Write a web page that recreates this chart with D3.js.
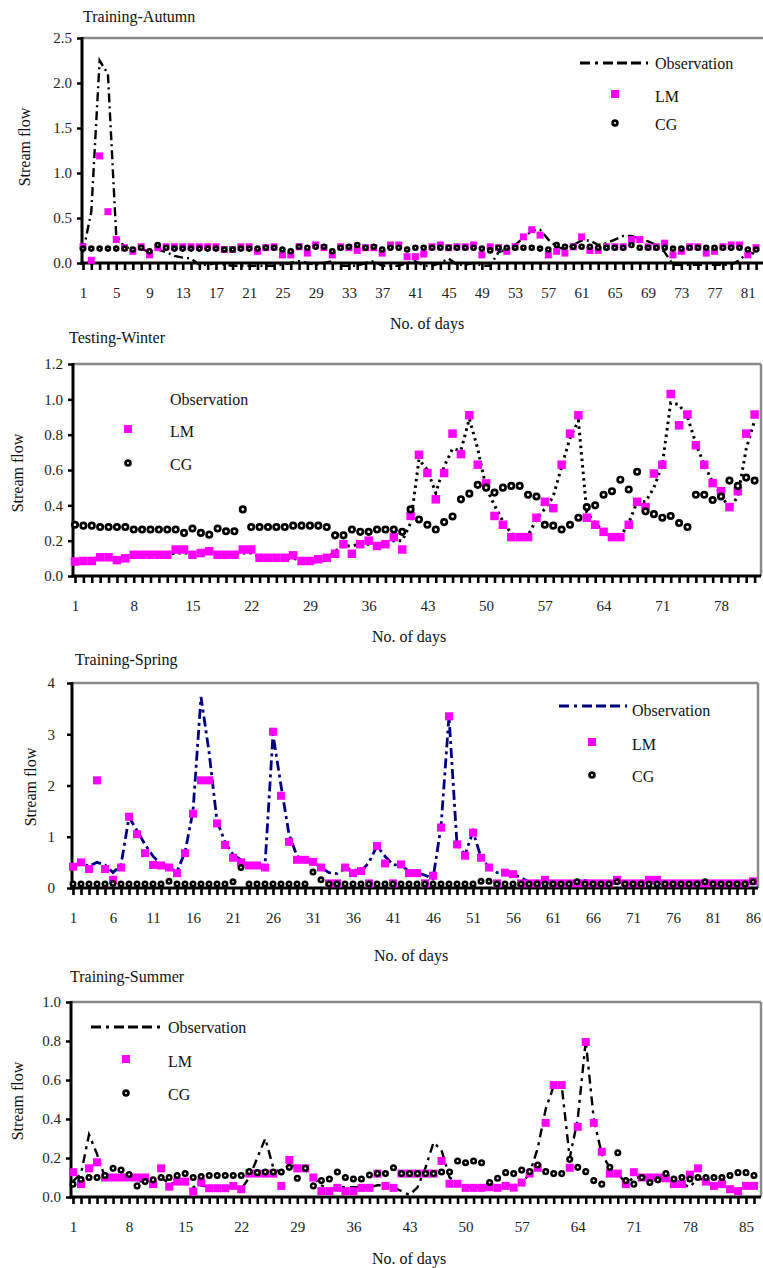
<!DOCTYPE html>
<html>
<head>
<meta charset="utf-8">
<script src="https://cdn.jsdelivr.net/npm/d3@7"></script>
<style>
body { margin: 0; background: #fff; }
svg { display: block; font-family: "Liberation Serif", "Times New Roman", serif; }
</style>
</head>
<body>
<svg id="chart" width="763" height="1268"></svg>
<script>
// ---- Training-Autumn (82 days) ----
const autumnObs = [0.12, 0.57, 2.25, 2.1, 0.3, 0.18, 0.15, 0.16, 0.12, 0.15,
  0.12, 0.08, 0.06, 0.05, -0.02, -0.02, 0.0, -0.02, -0.03, -0.03,
  -0.03, -0.03, -0.03, -0.03, -0.02, 0.0, 0.02, 0.0, -0.02, 0.0,
  0.02, -0.03, -0.03, -0.03, 0.0, 0.02, -0.03, -0.03, -0.03, 0.0,
  0.02, -0.03, -0.03, 0.0, 0.05, -0.02, -0.02, 0.0, -0.03, -0.03,
  0.12, 0.15, 0.2, 0.28, 0.36, 0.37, 0.26, 0.18, 0.15, 0.2,
  0.25, 0.25, 0.2, 0.22, 0.26, 0.3, 0.3, 0.27, 0.24, 0.2,
  0.12, -0.02, -0.02, -0.02, -0.02, -0.02, -0.02, -0.02, -0.02, 0.03,
  0.12, 0.1];
const autumnLM = [0.18, 0.03, 1.19, 0.57, 0.26, 0.17, 0.13, 0.18, 0.09, 0.17,
  0.18, 0.18, 0.18, 0.18, 0.18, 0.18, 0.18, 0.15, 0.15, 0.18,
  0.18, 0.13, 0.17, 0.18, 0.09, 0.09, 0.18, 0.11, 0.2, 0.17,
  0.09, 0.18, 0.17, 0.14, 0.17, 0.17, 0.11, 0.2, 0.2, 0.07,
  0.07, 0.1, 0.18, 0.2, 0.17, 0.18, 0.18, 0.2, 0.09, 0.18,
  0.17, 0.13, 0.18, 0.29, 0.37, 0.31, 0.09, 0.13, 0.11, 0.18,
  0.29, 0.14, 0.14, 0.18, 0.18, 0.18, 0.26, 0.26, 0.18, 0.18,
  0.22, 0.09, 0.13, 0.18, 0.18, 0.11, 0.13, 0.18, 0.2, 0.2,
  0.09, 0.17];
const autumnCG = [0.16, 0.16, 0.16, 0.16, 0.16, 0.16, 0.15, 0.17, 0.13, 0.2,
  0.17, 0.16, 0.16, 0.16, 0.16, 0.16, 0.16, 0.15, 0.15, 0.16,
  0.16, 0.16, 0.17, 0.17, 0.15, 0.13, 0.18, 0.17, 0.18, 0.18,
  0.13, 0.17, 0.18, 0.2, 0.17, 0.18, 0.15, 0.17, 0.17, 0.15,
  0.17, 0.17, 0.17, 0.17, 0.17, 0.17, 0.17, 0.17, 0.16, 0.14,
  0.17, 0.17, 0.17, 0.17, 0.17, 0.16, 0.15, 0.2, 0.18, 0.18,
  0.18, 0.18, 0.17, 0.17, 0.17, 0.17, 0.2, 0.17, 0.17, 0.17,
  0.17, 0.16, 0.16, 0.17, 0.17, 0.17, 0.17, 0.17, 0.17, 0.17,
  0.15, 0.15];
const autumnXLabels = [1, 5, 9, 13, 17, 21, 25, 29, 33, 37, 41, 45, 49, 53, 57, 61, 65, 69, 73, 77, 81];
const autumnYTicks = [0, 0.5, 1.0, 1.5, 2.0, 2.5];

// ---- Testing-Winter (82 days) ----
const winterObs = [0.09, 0.09, 0.1, 0.1, 0.1, 0.1, 0.11, 0.11, 0.12, 0.12,
  0.12, 0.12, 0.13, 0.13, 0.13, 0.13, 0.13, 0.13, 0.12, 0.12,
  0.13, 0.13, 0.11, 0.1, 0.1, 0.1, 0.1, 0.09, 0.08, 0.08,
  0.1, 0.14, 0.17, 0.17, 0.18, 0.18, 0.18, 0.19, 0.2, 0.2,
  0.3, 0.66, 0.6, 0.47, 0.62, 0.72, 0.71, 0.89, 0.72, 0.5,
  0.4, 0.31, 0.24, 0.22, 0.23, 0.32, 0.38, 0.45, 0.62, 0.78,
  0.88, 0.36, 0.3, 0.25, 0.22, 0.22, 0.3, 0.42, 0.42, 0.5,
  0.63, 0.98, 0.97, 0.9, 0.75, 0.63, 0.53, 0.46, 0.38, 0.45,
  0.72, 0.88];
const winterLM = [0.082, 0.085, 0.085, 0.106, 0.106, 0.09, 0.1, 0.12, 0.12, 0.12,
  0.12, 0.12, 0.15, 0.15, 0.12, 0.13, 0.14, 0.12, 0.12, 0.12,
  0.15, 0.15, 0.103, 0.103, 0.103, 0.103, 0.117, 0.085, 0.085, 0.095,
  0.103, 0.126, 0.18, 0.126, 0.18, 0.2, 0.17, 0.18, 0.22, 0.15,
  0.34, 0.686, 0.583, 0.434, 0.583, 0.806, 0.69, 0.91, 0.63, 0.524,
  0.34, 0.29, 0.22, 0.22, 0.22, 0.33, 0.42, 0.384, 0.63, 0.806,
  0.91, 0.33, 0.29, 0.25, 0.22, 0.22, 0.29, 0.42, 0.39, 0.58,
  0.63, 1.03, 0.853, 0.914, 0.74, 0.63, 0.526, 0.48, 0.39, 0.48,
  0.806, 0.914];
const winterCG = [0.29, 0.285, 0.285, 0.277, 0.277, 0.277, 0.277, 0.263, 0.263, 0.263,
  0.263, 0.263, 0.263, 0.244, 0.269, 0.244, 0.234, 0.269, 0.253, 0.253,
  0.377, 0.277, 0.277, 0.277, 0.277, 0.277, 0.285, 0.285, 0.285, 0.285,
  0.277, 0.23, 0.23, 0.263, 0.25, 0.25, 0.263, 0.263, 0.263, 0.25,
  0.377, 0.32, 0.29, 0.263, 0.305, 0.337, 0.434, 0.466, 0.516, 0.5,
  0.472, 0.5, 0.51, 0.51, 0.46, 0.45, 0.29, 0.285, 0.263, 0.29,
  0.33, 0.39, 0.4, 0.46, 0.48, 0.545, 0.49, 0.59, 0.366, 0.35,
  0.33, 0.34, 0.3, 0.277, 0.46, 0.46, 0.43, 0.45, 0.54, 0.51,
  0.557, 0.54];
const winterXLabels = [1, 8, 15, 22, 29, 36, 43, 50, 57, 64, 71, 78];
const winterYTicks = [0, 0.2, 0.4, 0.6, 0.8, 1.0, 1.2];

// ---- Training-Spring (86 days) ----
const springObs = [0.42, 0.5, 0.42, 0.5, 0.45, 0.3, 0.45, 1.38, 1.12, 0.85,
  0.62, 0.46, 0.4, 0.32, 0.7, 1.5, 3.73, 2.66, 1.3, 0.9,
  0.65, 0.55, 0.45, 0.44, 0.44, 3.0, 2.0, 1.05, 0.62, 0.55,
  0.5, 0.4, 0.3, 0.28, 0.38, 0.36, 0.32, 0.5, 0.82, 0.62,
  0.45, 0.45, 0.32, 0.3, 0.25, 0.18, 1.2, 3.35, 0.85, 0.65,
  1.1, 0.6, 0.4, 0.3, 0.3, 0.27, 0.2, 0.12, 0.1, 0.12,
  0.08, 0.08, 0.1, 0.15, 0.15, 0.1, 0.08, 0.08, 0.1, 0.12,
  0.1, 0.08, 0.1, 0.1, 0.08, 0.08, 0.08, 0.08, 0.08, 0.08,
  0.08, 0.08, 0.08, 0.08, 0.08, 0.1];
const springLM = [0.415, 0.5, 0.37, 2.1, 0.37, 0.16, 0.4, 1.39, 1.05, 0.68,
  0.45, 0.44, 0.4, 0.29, 0.68, 1.45, 2.1, 2.1, 1.26, 0.84,
  0.59, 0.5, 0.44, 0.44, 0.4, 3.05, 1.8, 0.9, 0.55, 0.55,
  0.51, 0.4, 0.09, 0.09, 0.4, 0.29, 0.33, 0.09, 0.82, 0.48,
  0.09, 0.46, 0.29, 0.29, 0.09, 0.24, 1.18, 3.35, 0.85, 0.63,
  1.08, 0.59, 0.4, 0.09, 0.3, 0.27, 0.09, 0.09, 0.09, 0.16,
  0.09, 0.09, 0.09, 0.09, 0.09, 0.09, 0.09, 0.09, 0.16, 0.09,
  0.09, 0.09, 0.16, 0.16, 0.09, 0.09, 0.09, 0.09, 0.09, 0.09,
  0.09, 0.09, 0.09, 0.09, 0.09, 0.13];
const springCG = [0.08, 0.08, 0.08, 0.08, 0.08, 0.09, 0.08, 0.08, 0.08, 0.08,
  0.08, 0.08, 0.13, 0.08, 0.08, 0.08, 0.08, 0.08, 0.08, 0.08,
  0.12, 0.4, 0.08, 0.08, 0.08, 0.08, 0.08, 0.08, 0.08, 0.08,
  0.31, 0.16, 0.08, 0.08, 0.08, 0.08, 0.08, 0.08, 0.08, 0.08,
  0.08, 0.08, 0.08, 0.08, 0.08, 0.08, 0.08, 0.08, 0.08, 0.08,
  0.08, 0.13, 0.13, 0.08, 0.08, 0.08, 0.08, 0.08, 0.08, 0.08,
  0.08, 0.08, 0.08, 0.12, 0.08, 0.08, 0.08, 0.08, 0.12, 0.08,
  0.08, 0.08, 0.08, 0.08, 0.08, 0.08, 0.08, 0.08, 0.08, 0.12,
  0.08, 0.08, 0.08, 0.08, 0.08, 0.12];
const springXLabels = [1, 6, 11, 16, 21, 26, 31, 36, 41, 46, 51, 56, 61, 66, 71, 76, 81, 86];
const springYTicks = [0, 1, 2, 3, 4];

// ---- Training-Summer (86 days) ----
const summerObs = [0.08, 0.12, 0.32, 0.22, 0.1, 0.1, 0.1, 0.1, 0.08, 0.08,
  0.07, 0.1, 0.07, 0.07, 0.07, 0.05, 0.06, 0.05, 0.05, 0.05,
  0.05, 0.04, 0.1, 0.2, 0.3, 0.15, 0.12, 0.17, 0.15, 0.14,
  0.1, 0.06, 0.04, 0.05, 0.05, 0.05, 0.05, 0.05, 0.06, 0.06,
  0.05, 0.03, 0.01, 0.05, 0.15, 0.28, 0.24, 0.1, 0.07, 0.05,
  0.05, 0.05, 0.05, 0.06, 0.06, 0.06, 0.07, 0.12, 0.25, 0.45,
  0.57, 0.57, 0.2, 0.4, 0.8, 0.4, 0.22, 0.15, 0.12, 0.07,
  0.1, 0.1, 0.1, 0.1, 0.09, 0.07, 0.07, 0.05, 0.1, 0.08,
  0.06, 0.07, 0.05, 0.04, 0.05, 0.06];
const summerLM = [0.127, 0.066, 0.147, 0.178, 0.1, 0.1, 0.1, 0.1, 0.1, 0.1,
  0.066, 0.147, 0.053, 0.079, 0.079, 0.028, 0.074, 0.045, 0.045, 0.045,
  0.057, 0.04, 0.12, 0.12, 0.12, 0.12, 0.057, 0.19, 0.147, 0.147,
  0.1, 0.03, 0.03, 0.047, 0.03, 0.03, 0.047, 0.047, 0.12, 0.057,
  0.047, 0.12, 0.12, 0.12, 0.12, 0.12, 0.185, 0.068, 0.068, 0.047,
  0.047, 0.047, 0.05, 0.047, 0.057, 0.048, 0.074, 0.12, 0.15, 0.38,
  0.574, 0.574, 0.15, 0.36, 0.795, 0.38, 0.232, 0.12, 0.12, 0.066,
  0.127, 0.1, 0.1, 0.1, 0.096, 0.066, 0.066, 0.115, 0.147, 0.079,
  0.057, 0.066, 0.04, 0.03, 0.057, 0.057];
const summerCG = [0.066, 0.09, 0.1, 0.1, 0.11, 0.147, 0.138, 0.115, 0.057, 0.079,
  0.088, 0.1, 0.1, 0.11, 0.12, 0.1, 0.105, 0.11, 0.11, 0.11,
  0.11, 0.11, 0.13, 0.125, 0.128, 0.128, 0.128, 0.152, 0.096, 0.147,
  0.057, 0.084, 0.092, 0.128, 0.1, 0.092, 0.092, 0.113, 0.12, 0.12,
  0.15, 0.12, 0.12, 0.12, 0.12, 0.12, 0.128, 0.128, 0.185, 0.176,
  0.185, 0.176, 0.074, 0.096, 0.125, 0.12, 0.138, 0.13, 0.164, 0.13,
  0.12, 0.12, 0.193, 0.152, 0.13, 0.084, 0.066, 0.152, 0.227, 0.084,
  0.066, 0.1, 0.074, 0.088, 0.12, 0.092, 0.1, 0.092, 0.1, 0.1,
  0.1, 0.1, 0.11, 0.125, 0.125, 0.11];
const summerXLabels = [1, 8, 15, 22, 29, 36, 43, 50, 57, 64, 71, 78, 85];
const summerYTicks = [0, 0.2, 0.4, 0.6, 0.8, 1.0];

const svg = d3.select("#chart");
const fontFam = '"Liberation Serif", "Times New Roman", serif';

const panels = [
  {title: "Training-Autumn", titleX: 83, titleY: 22, obs: autumnObs, lm: autumnLM, cg: autumnCG,
   xLabels: autumnXLabels, yTicks: autumnYTicks, yMax: 2.5, fmt: ".1f",
   axisX: 82, top: 38, bottom: 263, right: 765, x1: 83, x2: 756.1,
   yPad: 5, yTitleX: 24, yTitleY: 147, xTitleX: 427, xTitleY: 329,
   obsColor: "#000", dash: "9,4,2,4", obsW: 2.4, sq: 7, cr: 2.0, cw: 2.6,
   legend: {lineX1: 580, lineX2: 648, lineY: 63, textX: 655, obsY: 63, mX: 615, lmY: 94, cgY: 123}},
  {title: "Testing-Winter", titleX: 69, titleY: 343, obs: winterObs, lm: winterLM, cg: winterCG,
   xLabels: winterXLabels, yTicks: winterYTicks, yMax: 1.2, fmt: ".1f",
   axisX: 73, top: 364, bottom: 576, right: 761, x1: 75, x2: 754.6,
   yPad: 5, yTitleX: 17, yTitleY: 473, xTitleX: 409, xTitleY: 642,
   obsColor: "#000", dash: "2.5,4", obsW: 3, sq: 8.5, cr: 2.7, cw: 2.7,
   legend: {lineX1: null, textX: 170, obsY: 399, mX: 128, lmY: 429, cgY: 463}},
  {title: "Training-Spring", titleX: 75, titleY: 665, obs: springObs, lm: springLM, cg: springCG,
   xLabels: springXLabels, yTicks: springYTicks, yMax: 4, fmt: "d",
   axisX: 72, top: 683, bottom: 888, right: 758, x1: 73, x2: 753,
   yPad: 12, yTitleX: 30, yTitleY: 787, xTitleX: 411, xTitleY: 961,
   obsColor: "#000080", dash: "10,4,3,4", obsW: 2.8, sq: 8, cr: 2.2, cw: 2.6,
   legend: {lineX1: 559, lineX2: 627, lineY: 706, textX: 632, obsY: 710, mX: 592, lmY: 742, cgY: 775}},
  {title: "Training-Summer", titleX: 70, titleY: 982, obs: summerObs, lm: summerLM, cg: summerCG,
   xLabels: summerXLabels, yTicks: summerYTicks, yMax: 1.0, fmt: ".1f",
   axisX: 71, top: 1002, bottom: 1197, right: 761, x1: 73, x2: 754,
   yPad: 5, yTitleX: 17, yTitleY: 1101, xTitleX: 409, xTitleY: 1264,
   obsColor: "#000", dash: "9,5,3,5", obsW: 2.4, sq: 8, cr: 2.3, cw: 2.5,
   legend: {lineX1: 91, lineX2: 162, lineY: 1027, textX: 168, obsY: 1027, mX: 126, lmY: 1059, cgY: 1093}}
];

function drawPanel(p) {
  const n = p.lm.length;
  const x = d3.scaleLinear().domain([1, n]).range([p.x1, p.x2]);
  const y = d3.scaleLinear().domain([0, p.yMax]).range([p.bottom, p.top]);
  const g = svg.append("g");

  // grey frame (top and right)
  g.append("line").attr("x1", p.axisX).attr("x2", p.right).attr("y1", p.top).attr("y2", p.top)
    .attr("stroke", "#8a8a8a").attr("stroke-width", 2.5);
  g.append("line").attr("x1", p.right).attr("x2", p.right).attr("y1", p.top).attr("y2", p.bottom)
    .attr("stroke", "#8a8a8a").attr("stroke-width", 2.5);

  // day ticks
  const days = d3.range(1, n + 1);
  g.append("g").attr("transform", "translate(0," + p.bottom + ")")
    .call(d3.axisBottom(x).tickValues(days).tickSize(7).tickFormat(""))
    .call(a => a.select(".domain").remove())
    .selectAll("line").attr("stroke", "#000").attr("stroke-width", 2.6);

  // day labels
  const xl = g.append("g").attr("transform", "translate(0," + p.bottom + ")")
    .call(d3.axisBottom(x).tickValues(p.xLabels).tickSize(0).tickPadding(24).tickFormat(d3.format("d")));
  xl.select(".domain").remove();
  xl.attr("font-family", fontFam).attr("font-size", 15);
  xl.selectAll("text").attr("fill", "#222");

  // x axis line
  g.append("line").attr("x1", p.axisX - 1.5).attr("x2", Math.min(p.right, 763)).attr("y1", p.bottom).attr("y2", p.bottom)
    .attr("stroke", "#000").attr("stroke-width", 3);

  // y axis
  const ya = g.append("g").attr("transform", "translate(" + p.axisX + ",0)")
    .call(d3.axisLeft(y).tickValues(p.yTicks).tickSize(5).tickSizeOuter(0).tickPadding(p.yPad).tickFormat(d3.format(p.fmt)));
  ya.select(".domain").remove();
  ya.attr("font-family", fontFam).attr("font-size", 15);
  ya.selectAll("line").attr("stroke-width", 2.5);
  ya.selectAll("text").attr("fill", "#222");
  g.append("line").attr("x1", p.axisX).attr("x2", p.axisX).attr("y1", p.top - 1).attr("y2", p.bottom + 1.5)
    .attr("stroke", "#000").attr("stroke-width", 3);

  // observation line
  const line = d3.line().x((d, i) => x(i + 1)).y(d => y(d));
  g.append("path").datum(p.obs).attr("d", line).attr("fill", "none")
    .attr("stroke", p.obsColor).attr("stroke-width", p.obsW).attr("stroke-dasharray", p.dash);

  // LM squares
  g.append("g").selectAll("rect").data(p.lm).join("rect")
    .attr("x", (d, i) => x(i + 1) - p.sq / 2).attr("y", d => y(d) - p.sq / 2)
    .attr("width", p.sq).attr("height", p.sq).attr("fill", "#ff00ff");

  // CG circles
  g.append("g").selectAll("circle").data(p.cg).join("circle")
    .attr("cx", (d, i) => x(i + 1)).attr("cy", d => y(d)).attr("r", p.cr)
    .attr("fill", "#fff").attr("stroke", "#000").attr("stroke-width", p.cw);

  // titles
  g.append("text").attr("x", p.titleX).attr("y", p.titleY).attr("font-size", 16).attr("fill", "#111").text(p.title);
  g.append("text").attr("x", p.xTitleX).attr("y", p.xTitleY).attr("text-anchor", "middle")
    .attr("font-size", 16).attr("fill", "#111").text("No. of days");
  g.append("text").attr("transform", "translate(" + p.yTitleX + "," + p.yTitleY + ") rotate(-90)")
    .attr("text-anchor", "middle").attr("dy", "0.35em").attr("font-size", 16).attr("fill", "#111").text("Stream flow");

  // legend
  const L = p.legend;
  if (L.lineX1 !== null) {
    g.append("line").attr("x1", L.lineX1).attr("x2", L.lineX2).attr("y1", L.lineY).attr("y2", L.lineY)
      .attr("stroke", p.obsColor).attr("stroke-width", 3).attr("stroke-dasharray", "10,5,3,5,10,4,10,4");
  }
  g.append("rect").attr("x", L.mX - 4).attr("y", L.lmY - 4).attr("width", 8).attr("height", 8).attr("fill", "#ff00ff");
  g.append("circle").attr("cx", L.mX).attr("cy", L.cgY).attr("r", 2.4).attr("fill", "#fff").attr("stroke", "#000").attr("stroke-width", 2.8);
  const lt = [["Observation", L.obsY], ["LM", L.lmY + 2], ["CG", L.cgY + 1]];
  g.selectAll(".legtext").data(lt).join("text")
    .attr("x", L.textX).attr("y", d => d[1]).attr("dy", "0.35em")
    .attr("font-size", 16).attr("fill", "#111").text(d => d[0]);
}

panels.forEach(drawPanel);
</script>
</body>
</html>
